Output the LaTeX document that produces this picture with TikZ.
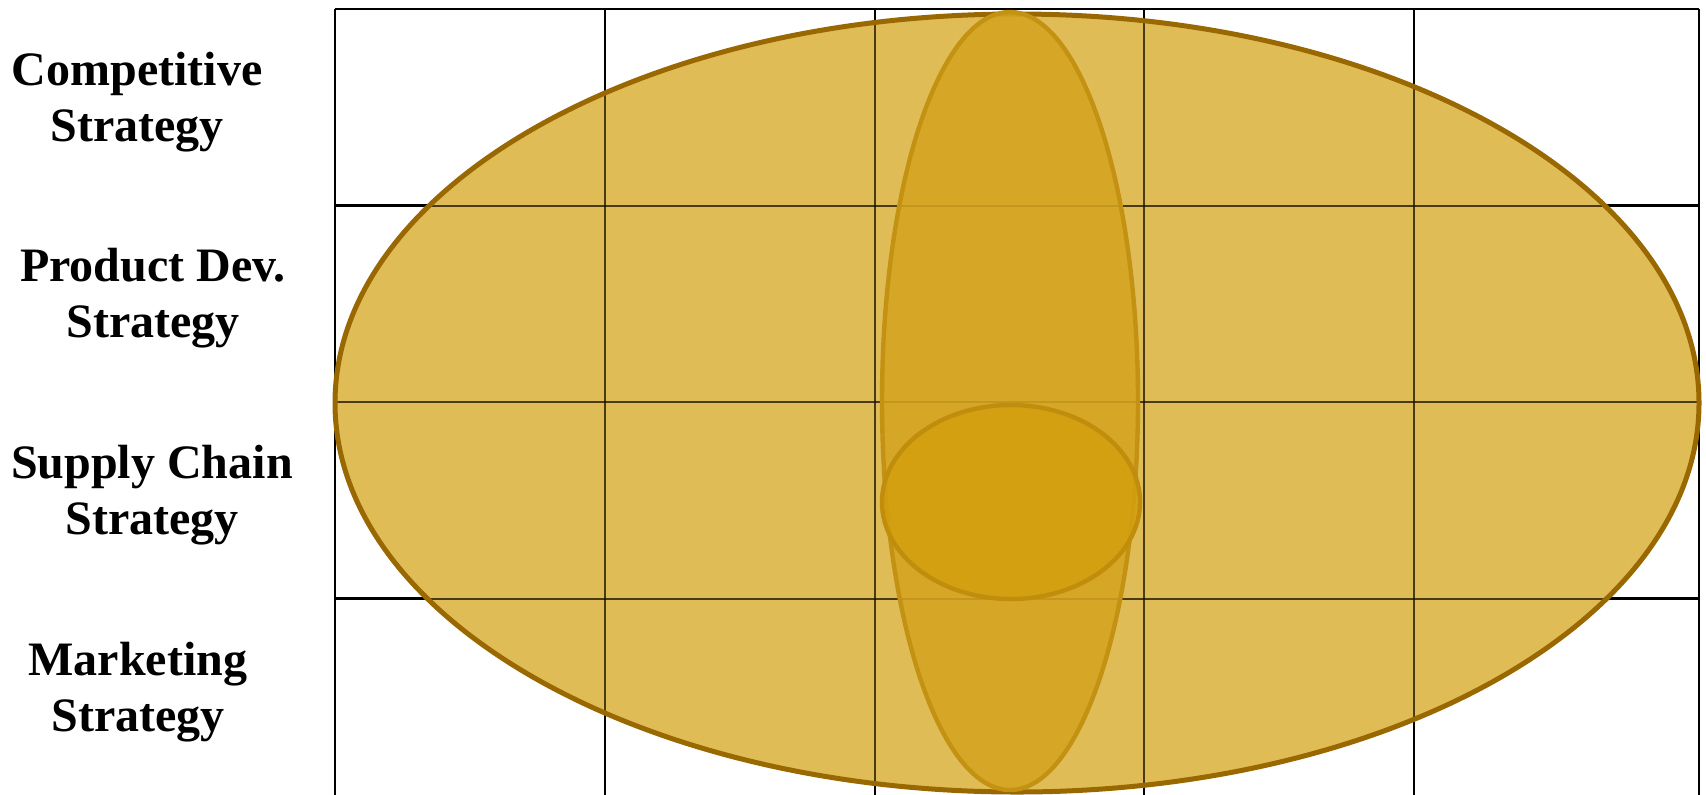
\documentclass[tikz,border=0pt]{standalone}
\usepackage{fontspec}
\setmainfont{Liberation Serif}
\definecolor{bigfill}{RGB}{224,188,86}
\definecolor{bigdraw}{RGB}{153,104,0}
\definecolor{tallfill}{RGB}{213,164,32}
\definecolor{talldraw}{RGB}{196,146,18}
\definecolor{smallfill}{RGB}{211,160,14}
\definecolor{smalldraw}{RGB}{192,142,12}
\tikzset{
  gridline/.style={draw=black, line width=1.25pt},
  innergrid/.style={draw=black!85!bigdraw, draw opacity=0.75, line width=1pt},
  rowlabel/.style={font=\fontsize{24}{28}\selectfont\bfseries, align=center, inner sep=0pt},
}
\begin{document}
\begin{tikzpicture}[x=0.5pt,y=-0.5pt]
\useasboundingbox (0,0) rectangle (1706,794);
% grid
\foreach \gx in {335,605,875,1144,1414,1699}
  \draw[gridline] (\gx,9) -- (\gx,800);
\foreach \gy in {9,205.5,402,598.5}
  \draw[gridline] (335,\gy) -- (1699,\gy);
% big ellipse
\fill[bigfill] (1017,403) ellipse [x radius=341pt, y radius=194.5pt];
% grid seen through the fill
\begin{scope}
  \clip (1017,403) ellipse [x radius=341pt, y radius=194.5pt];
  \foreach \gx in {335,605,875,1144,1414,1699}
    \draw[innergrid] (\gx,9) -- (\gx,800);
  \foreach \gy in {9,205.5,402,598.5}
    \draw[innergrid] (335,\gy) -- (1699,\gy);
\end{scope}
\draw[bigdraw, line width=2.5pt] (1017,403) ellipse [x radius=341pt, y radius=194.5pt];
% tall ellipse
\filldraw[fill=tallfill, fill opacity=0.88, draw=talldraw, line width=2.2pt] (1010,401) ellipse [x radius=64pt, y radius=194.5pt];
% small ellipse
\filldraw[fill=smallfill, fill opacity=0.85, draw=smalldraw, line width=2.2pt] (1011,502) ellipse [x radius=64.5pt, y radius=48.5pt];
% labels
\node[rowlabel] (comp) at (137,102) {Competitive\\Strategy};
\node[rowlabel] (prod) at (153,298) {Product Dev.\\Strategy};
\node[rowlabel] (supp) at (152,495) {Supply Chain\\Strategy};
\node[rowlabel] (mark) at (138,692) {Marketing\\Strategy};
\end{tikzpicture}
\end{document}
